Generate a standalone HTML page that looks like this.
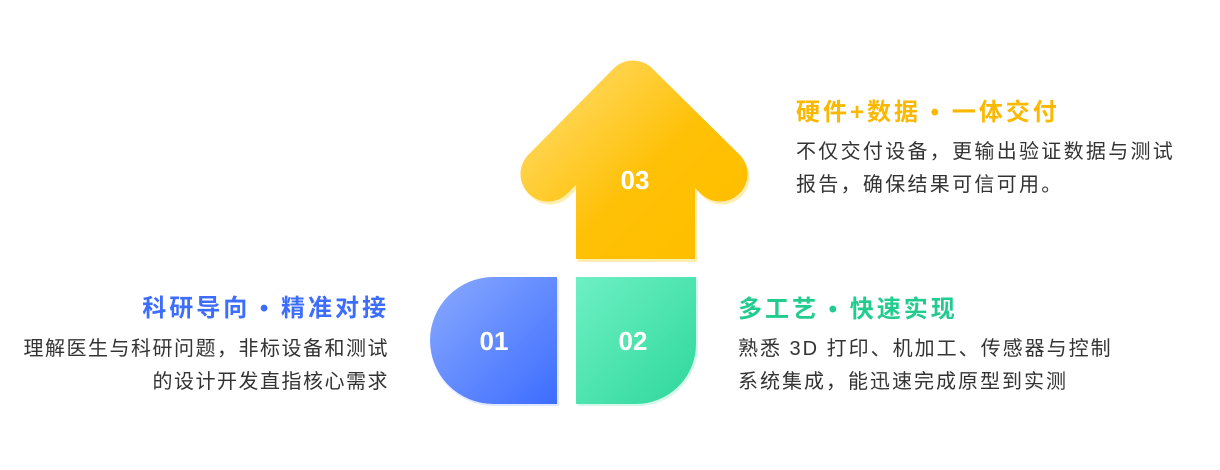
<!DOCTYPE html>
<html><head><meta charset="utf-8"><style>
body{margin:0;width:1220px;height:470px;background:#fff;position:relative;overflow:hidden;font-family:"Liberation Sans","Noto Sans CJK SC",sans-serif}
.t{position:absolute;white-space:nowrap}
.h{font-size:24px;font-weight:bold;line-height:30px;letter-spacing:3px}
.b{font-size:20px;color:#333;line-height:33px;letter-spacing:2.3px}
</style></head><body>
<svg width="1220" height="470" style="position:absolute;left:0;top:0">
<defs>
<linearGradient id="y" gradientUnits="userSpaceOnUse" x1="560" y1="90" x2="700" y2="230"><stop offset="0" stop-color="#ffd75a"/><stop offset=".6" stop-color="#ffc107"/><stop offset="1" stop-color="#ffbf00"/></linearGradient>
<linearGradient id="bl" x1="0" y1="0" x2="1" y2="1"><stop offset="0" stop-color="#8aaaff"/><stop offset="1" stop-color="#3d6dff"/></linearGradient>
<linearGradient id="gr" x1="0" y1="0" x2="1" y2="1"><stop offset="0" stop-color="#6ef0c4"/><stop offset="1" stop-color="#2ed89c"/></linearGradient>
</defs>
<g transform="translate(2,3)">
<polyline points="548,174 633,88 720,174" fill="none" stroke="#ffeeb0" stroke-width="55" stroke-linecap="round" stroke-linejoin="round"/>
<rect x="576" y="130" width="119" height="129" fill="#ffeeb0"/>
</g>
<polyline points="548,174 633,88 720,174" fill="none" stroke="url(#y)" stroke-width="55" stroke-linecap="round" stroke-linejoin="round"/>
<rect x="576" y="120" width="119" height="139" fill="url(#y)"/>
<path d="M559 279 H494 A63.5 63.5 0 0 0 494 406 H559Z" fill="#dfe7ff"/>
<path d="M557 277 H493.5 A63.5 63.5 0 0 0 493.5 404 H557Z" fill="url(#bl)"/>
<path d="M578 279 H698 V346 A60 60 0 0 1 638 406 H578Z" fill="#d6f7ea"/>
<path d="M576 277 H696 V344 A60 60 0 0 1 636 404 H576Z" fill="url(#gr)"/>
<g fill="#fff" font-size="26" font-weight="bold" font-family="Liberation Sans,sans-serif" text-anchor="middle">
<text x="635" y="189">03</text><text x="494" y="350">01</text><text x="633" y="350">02</text></g>
</svg>
<div class="t h" style="left:796px;top:98px;color:#fbb800">硬件+数据 • 一体交付</div>
<div class="t b" style="left:796px;top:136px">不仅交付设备，更输出验证数据与测试<br>报告，确保结果可信可用。</div>
<div class="t h" style="right:831px;top:294px;color:#3d6dff;text-align:right">科研导向 • 精准对接</div>
<div class="t b" style="right:831px;top:333px;text-align:right;letter-spacing:1.5px">理解医生与科研问题，非标设备和测试<br>的设计开发直指核心需求</div>
<div class="t h" style="left:738px;top:295px;color:#22cc8e">多工艺 • 快速实现</div>
<div class="t b" style="left:738px;top:333px;letter-spacing:2px">熟悉 3D 打印、机加工、传感器与控制<br>系统集成，能迅速完成原型到实测</div>
</body></html>
